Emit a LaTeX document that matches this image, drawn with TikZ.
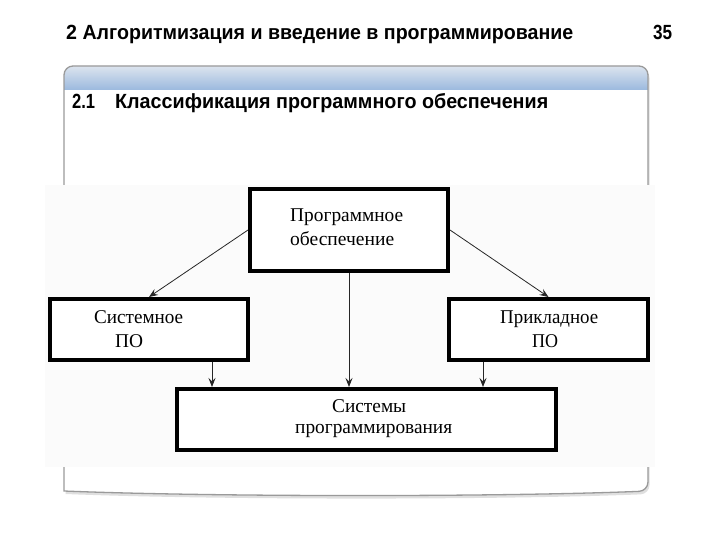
\documentclass[tikz,border=0pt]{standalone}
\usepackage{fontspec}
\usepackage{graphicx}
\setmainfont{Liberation Serif}
\newfontfamily\hdrsans{Liberation Sans}
\usetikzlibrary{arrows.meta,shadows}
\definecolor{barTop}{HTML}{DCE4EE}
\definecolor{barBot}{HTML}{9BB9DE}
\definecolor{panelEdge}{HTML}{9A9A9A}
\definecolor{imgBg}{HTML}{FBFBFB}
\newcommand\fitw[2]{\resizebox{#1pt}{\height}{#2}}
\begin{document}
\begin{tikzpicture}[x=1pt,y=-1pt,
  box/.style={draw=black, line width=3.8pt, fill=white, inner sep=0pt},
  lbl/.style={anchor=base west, inner sep=0pt, font=\fontsize{19.5}{22}\selectfont},
  hdr/.style={anchor=base west, inner sep=0pt, font=\hdrsans\bfseries\fontsize{20.5}{24}\selectfont},
  arr/.style={draw=black!85, line width=0.8pt, -{Stealth[length=9pt,width=7pt,inset=3.5pt]}}]
\useasboundingbox (0,0) rectangle (720,540);
\fill[white] (0,0) rectangle (720,540);

% panel
\path[fill=white, drop shadow={opacity=0.25, shadow xshift=1.5pt, shadow yshift=-3pt}]
  {[rounded corners=9pt] (64,491) -- (64,66) -- (648,66) -- (648,491)}
  .. controls (500,497) and (212,497) .. (64,491) -- cycle;
\begin{scope}
  \clip[rounded corners=9pt] (64,66) rectangle (648,300);
  \shade[top color=barTop, bottom color=barBot] (64,66) rectangle (648,90);
\end{scope}
\draw[panelEdge, line width=1.3pt]
  {[rounded corners=9pt] (64,491) -- (64,66) -- (648,66) -- (648,491)}
  .. controls (500,497) and (212,497) .. (64,491) -- cycle;

% header texts
\node[hdr] (title) at (66,40) {\fitw{507}{2 Алгоритмизация и введение в программирование}};
\node[hdr] (page) at (653,40) {\fitw{19}{35}};
\node[hdr] (secnum) at (72,109) {\fitw{23}{2.1}};
\node[hdr] (sectitle) at (115,109) {\fitw{433}{Классификация программного обеспечения}};

% image area
\fill[imgBg] (45,185) rectangle (655,467);

% boxes
\node[box, minimum width=198.2pt, minimum height=82.2pt] (po) at (349,230) {};
\node[box, minimum width=198.2pt, minimum height=61.2pt] (sys) at (149,329.5) {};
\node[box, minimum width=199.2pt, minimum height=61.2pt] (app) at (548.5,329.5) {};
\node[box, minimum width=379.2pt, minimum height=61.2pt] (prog) at (366.5,419.5) {};

% connectors
\draw[arr] (po.west) -- (sys.north);
\draw[arr] (po.east) -- (app.north);
\draw[arr] (po.south) -- (po.south |- prog.north);
\draw[arr] ([xshift=-38pt]sys.south east) -- ([xshift=-38pt]sys.south east |- prog.north);
\draw[arr] ([xshift=36pt]app.south west) -- ([xshift=36pt]app.south west |- prog.north);

% labels
\node[lbl] (t1a) at (290,222) {\fitw{113}{Программное}};
\node[lbl] (t1b) at (290,246) {\fitw{104}{обеспечение}};
\node[lbl] (t2a) at (94,323) {\fitw{89}{Системное}};
\node[lbl] (t2b) at (115,347) {\fitw{28}{ПО}};
\node[lbl] (t3a) at (500,323) {\fitw{98}{Прикладное}};
\node[lbl] (t3b) at (532,347) {\fitw{26}{ПО}};
\node[lbl] (t4a) at (332,412) {\fitw{74}{Системы}};
\node[lbl] (t4b) at (295,433) {\fitw{157}{программирования}};
\end{tikzpicture}
\end{document}
